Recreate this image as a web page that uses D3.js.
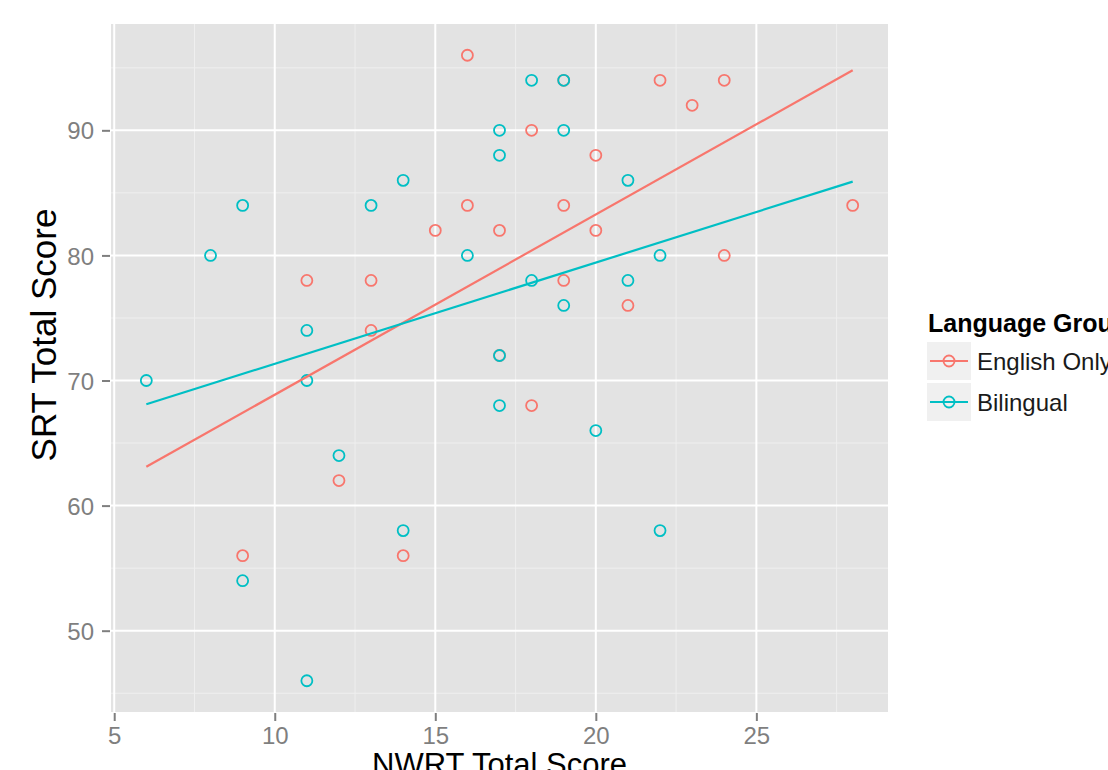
<!DOCTYPE html>
<html>
<head>
<meta charset="utf-8">
<script src="https://cdn.jsdelivr.net/npm/d3@7"></script>
<style>
	body {margin: 0; background: #fff;}
	text {font-family: 'Liberation Sans', Arial, Helvetica, sans-serif;}
</style>
</head>
<body>
<div id="chart"></div>
<script>
var groups = ['English Only', 'Bilingual'];
var colors = ['#F8766D', '#00BFC4'];

// NWRT (x) and SRT (y) scores
var nwrtEnglish = [16, 18, 20, 22, 23, 24, 16, 19, 15, 17, 20, 28, 24, 11, 13, 19, 21, 13, 17, 18, 12, 9, 14, 19];
var srtEnglish  = [96, 90, 88, 94, 92, 94, 84, 84, 82, 82, 82, 84, 80, 78, 78, 78, 76, 74, 72, 68, 62, 56, 56, 94];
var nwrtBilingual = [18, 19, 17, 19, 17, 14, 21, 9, 13, 8, 16, 22, 18, 21, 19, 11, 17, 6, 11, 17, 20, 12, 14, 22, 9, 11];
var srtBilingual  = [94, 94, 90, 90, 88, 86, 86, 84, 84, 80, 80, 80, 78, 78, 76, 74, 72, 70, 70, 68, 66, 64, 58, 58, 54, 46];

// fitted lm lines, end points
var fitX = [6, 28];
var fitEnglish = [63.1, 94.8];
var fitBilingual = [68.1, 85.9];

var xTicks = [5, 10, 15, 20, 25], xMinor = [7.5, 12.5, 17.5, 22.5, 27.5];
var yTicks = [50, 60, 70, 80, 90], yMinor = [45, 55, 65, 75, 85, 95];

(function(){
	var width = 1108, height = 770;
	var left = 111, right = 888, top = 24, bottom = 712;

	var svg = d3.select('#chart').append('svg')
		.attr('width', width)
		.attr('height', height);

	var x = d3.scaleLinear().domain([4.9, 29.1]).range([left, right]);
	var y = d3.scaleLinear().domain([43.5, 98.5]).range([bottom, top]);

	svg.append('rect')
		.attr('x', left).attr('y', top)
		.attr('width', right - left).attr('height', bottom - top)
		.attr('fill', '#E3E3E3');

	var grid = svg.append('g');
	grid.selectAll('.xminor').data(xMinor).enter().append('line')
		.attr('x1', x).attr('x2', x).attr('y1', top).attr('y2', bottom)
		.attr('stroke', '#EFEFEF').attr('stroke-width', 1);
	grid.selectAll('.yminor').data(yMinor).enter().append('line')
		.attr('y1', y).attr('y2', y).attr('x1', left).attr('x2', right)
		.attr('stroke', '#EFEFEF').attr('stroke-width', 1);
	grid.selectAll('.xmajor').data(xTicks).enter().append('line')
		.attr('x1', x).attr('x2', x).attr('y1', top).attr('y2', bottom)
		.attr('stroke', '#fff').attr('stroke-width', 2);
	grid.selectAll('.ymajor').data(yTicks).enter().append('line')
		.attr('y1', y).attr('y2', y).attr('x1', left).attr('x2', right)
		.attr('stroke', '#fff').attr('stroke-width', 2);

	// axes
	var xAxis = d3.axisBottom(x).tickValues(xTicks).tickSize(8).tickPadding(6);
	var yAxis = d3.axisLeft(y).tickValues(yTicks).tickSize(8).tickPadding(8);

	var gx = svg.append('g').attr('transform', 'translate(0,' + (bottom + 1) + ')').call(xAxis);
	var gy = svg.append('g').attr('transform', 'translate(' + (left - 1) + ',0)').call(yAxis);
	[gx, gy].forEach(function(g) {
		g.select('.domain').remove();
		g.selectAll('line').attr('stroke', '#7F7F7F').attr('stroke-width', 2);
		g.selectAll('text').attr('fill', '#7F7F7F').style('font-size', '24px');
	});
	gx.selectAll('text').attr('dy', '0.7em');
	gy.selectAll('text').attr('dy', '0.36em');

	svg.append('text')
		.attr('x', (left + right) / 2).attr('y', 775)
		.attr('text-anchor', 'middle')
		.style('font-size', '31px')
		.text('NWRT Total Score');

	svg.append('text')
		.attr('transform', 'translate(56,335) rotate(-90)')
		.attr('text-anchor', 'middle')
		.style('font-size', '35px')
		.text('SRT Total Score');

	// points
	var sets = [
		{xs: nwrtEnglish, ys: srtEnglish, fit: fitEnglish, color: colors[0]},
		{xs: nwrtBilingual, ys: srtBilingual, fit: fitBilingual, color: colors[1]}
	];

	sets.forEach(function(s) {
		svg.append('g').selectAll('circle')
			.data(s.xs)
			.enter().append('circle')
				.attr('cx', function(d) {return x(d);})
				.attr('cy', function(d, i) {return y(s.ys[i]);})
				.attr('r', 5.5)
				.attr('fill', 'none')
				.attr('stroke', s.color)
				.attr('stroke-width', 1.8);
	});

	var line = d3.line()
		.x(function(d) {return x(d[0]);})
		.y(function(d) {return y(d[1]);});

	sets.forEach(function(s) {
		svg.append('path')
			.datum(fitX.map(function(v, i) {return [v, s.fit[i]];}))
			.attr('d', line)
			.attr('fill', 'none')
			.attr('stroke', s.color)
			.attr('stroke-width', 2.2);
	});

	// legend
	var legend = svg.append('g').attr('transform', 'translate(927,0)');
	legend.append('text')
		.attr('x', 1).attr('y', 332)
		.style('font-size', '25px').style('font-weight', 'bold')
		.text('Language Group');

	var keys = legend.selectAll('.key')
		.data(groups)
		.enter().append('g')
			.attr('transform', function(d, i) {return 'translate(0,' + (342 + i * 41) + ')';});
	keys.append('rect')
		.attr('width', 44).attr('height', 38)
		.attr('fill', '#F0F0F0');
	keys.append('line')
		.attr('x1', 3).attr('x2', 41).attr('y1', 19).attr('y2', 19)
		.attr('stroke', function(d, i) {return colors[i];})
		.attr('stroke-width', 2.2);
	keys.append('circle')
		.attr('cx', 22).attr('cy', 19).attr('r', 5.5)
		.attr('fill', 'none')
		.attr('stroke', function(d, i) {return colors[i];})
		.attr('stroke-width', 1.8);
	keys.append('text')
		.attr('x', 50).attr('y', 19).attr('dy', '0.36em')
		.style('font-size', '24px')
		.attr('fill', '#1a1a1a')
		.text(function(d) {return d;});
})();
</script>
</body>
</html>
